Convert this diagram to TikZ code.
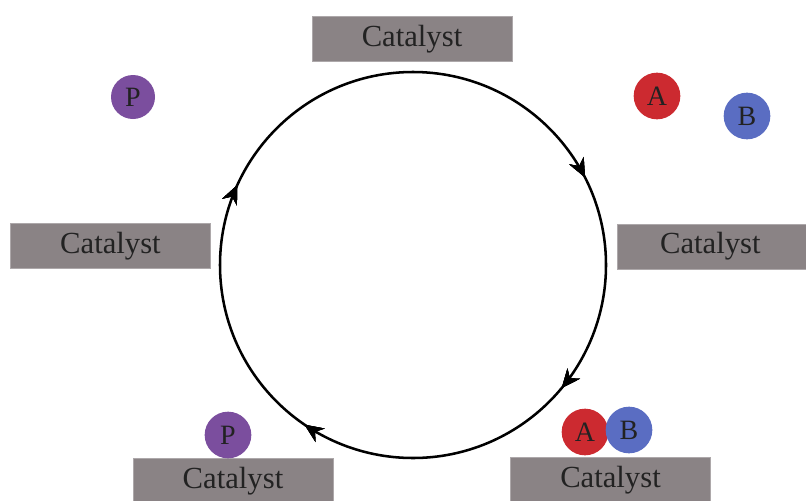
\documentclass[tikz,border=0pt]{standalone}
\usepackage{fontspec}
\setmainfont{Liberation Serif}
\usetikzlibrary{arrows.meta,decorations.markings}
\definecolor{boxgray}{HTML}{8A8385}
\definecolor{txtgray}{HTML}{222222}
\definecolor{molA}{HTML}{CC2A30}
\definecolor{molB}{HTML}{5A6DC2}
\definecolor{molP}{HTML}{7B4E9E}
\tikzset{
  catbox/.style={fill=boxgray, draw=boxgray!70!white, line width=0.5pt, minimum width=150pt, minimum height=34pt,
    inner sep=0pt, text=txtgray, font=\fontsize{23}{24}\selectfont},
  mol/.style={circle, fill=#1, minimum size=35pt, inner sep=0pt, text=txtgray,
    font=\fontsize{21}{22}\selectfont},
  cyclehead/.style={decoration={markings, mark=at position #1 with
    {\arrow{Stealth[length=14pt,width=12pt,inset=4.5pt]}}}, postaction={decorate}},
  cyclepath/.style={line width=1.9pt,
    cyclehead/.list={0.175,0.36,0.595,0.818}}
}
\begin{document}
\begin{tikzpicture}[x=0.75pt, y=-0.75pt]
\useasboundingbox (0,0) rectangle (806,500);
% reaction cycle, drawn clockwise from the top
\coordinate (ctr) at (413,265);
\draw[cyclepath] (ctr) ++(0,-193) arc[start angle=-90, end angle=270, radius=193];
% catalyst surfaces
\node[catbox] (top) at (412,39) {Catalyst};
\node[catbox] (left) at (110.5,246) {Catalyst};
\node[catbox] (right) at (717,246.5) {\hspace*{-10pt}Catalyst};
\node[catbox] (botleft) at (233,481) {Catalyst};
\node[catbox] (botright) at (610.5,480) {Catalyst};
% free molecules
\node[mol=molP, minimum size=33pt] (p1) at (133,97) {P};
\node[mol=molA] (a1) at (657,96) {A};
\node[mol=molB] (b1) at (747,116) {B};
% adsorbed molecules
\node[mol=molP] (p2) at (228,435) {P};
\node[mol=molA] (a2) at (585,432) {A};
\node[mol=molB] (b2) at (629,430) {B};
\end{tikzpicture}
\end{document}
